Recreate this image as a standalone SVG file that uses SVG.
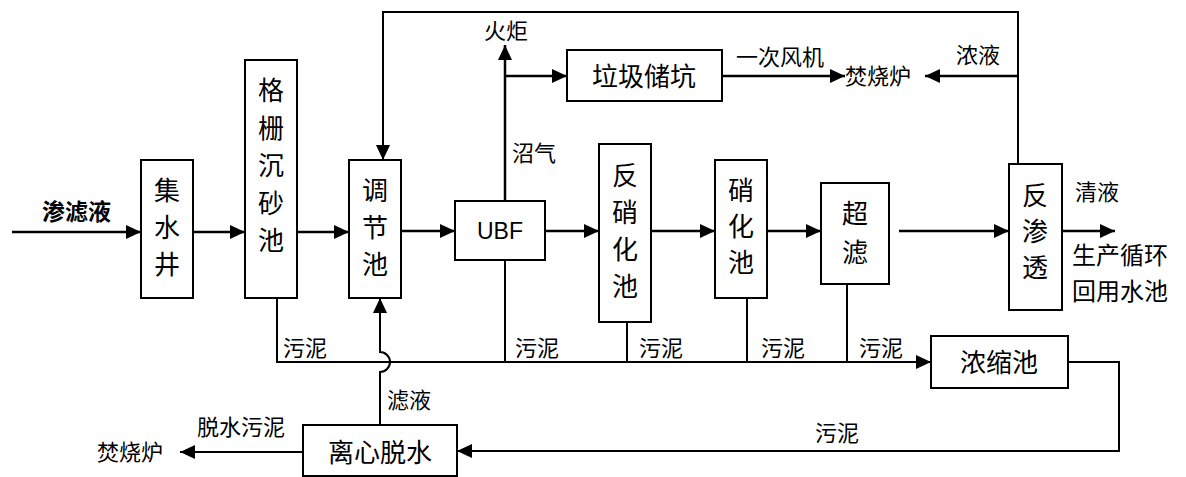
<svg xmlns="http://www.w3.org/2000/svg" width="1186" height="477" viewBox="0 0 1186 477">
<defs>
<marker id="ah" markerUnits="userSpaceOnUse" markerWidth="15" markerHeight="14" refX="15" refY="7" orient="auto">
<path d="M0,0 L15,7 L0,14 z" fill="#000"/>
</marker>
<style>
.box{fill:#fff;stroke:#000;stroke-width:2}
.ln{fill:none;stroke:#000;stroke-width:2.5}
.sl{fill:none;stroke:#000;stroke-width:2}
.t{font-family:"Noto Sans CJK SC",sans-serif;font-size:26px;fill:#000;text-anchor:middle}
.lb{font-family:"Noto Sans CJK SC",sans-serif;font-size:22px;fill:#000}
.c{text-anchor:middle}
</style>
</defs>
<rect width="1186" height="477" fill="#fff"/>
<g id="connectors">
<line class="ln" x1="12" y1="232" x2="141" y2="232" marker-end="url(#ah)"/>
<line class="ln" x1="193" y1="232" x2="245" y2="232" marker-end="url(#ah)"/>
<line class="ln" x1="297" y1="232" x2="349" y2="232" marker-end="url(#ah)"/>
<line class="ln" x1="401" y1="231" x2="455" y2="231" marker-end="url(#ah)"/>
<line class="ln" x1="545" y1="231" x2="599" y2="231" marker-end="url(#ah)"/>
<line class="ln" x1="651" y1="231" x2="715" y2="231" marker-end="url(#ah)"/>
<line class="ln" x1="767" y1="231" x2="821" y2="231" marker-end="url(#ah)"/>
<line class="ln" x1="899" y1="231" x2="1009" y2="231" marker-end="url(#ah)"/>
<line class="ln" x1="1062" y1="231" x2="1115" y2="231" marker-end="url(#ah)"/>
<path class="sl" d="M1018,164 V12 H383 V160" marker-end="url(#ah)"/>
<line class="ln" x1="1018" y1="76" x2="925" y2="76" marker-end="url(#ah)"/>
<line class="ln" x1="505" y1="201" x2="505" y2="45" marker-end="url(#ah)"/>
<line class="ln" x1="505" y1="76" x2="567" y2="76" marker-end="url(#ah)"/>
<line class="ln" x1="722" y1="76" x2="845" y2="76" marker-end="url(#ah)"/>
<path class="sl" d="M277,298 V362 H931" marker-end="url(#ah)"/>
<path class="sl" d="M505,260 V362 M627,322 V362 M747,298 V362 M847,284 V362"/>
<path class="sl" d="M380,425 V372 A10,10 0 0 0 380,352 V298" marker-end="url(#ah)"/>
<path class="sl" d="M1068,362 H1119 V451 H457" marker-end="url(#ah)"/>
<line class="sl" x1="303" y1="452" x2="180" y2="452" marker-end="url(#ah)"/>
</g>
<g id="n-jishuijing">
<rect class="box" x="141" y="160" width="52" height="138"/>
<text class="t" x="167" y="200">集</text><text class="t" x="167" y="237">水</text><text class="t" x="167" y="274">井</text>
</g>
<g id="n-geshan">
<rect class="box" x="245" y="60" width="52" height="238"/>
<text class="t" x="271" y="100">格</text><text class="t" x="271" y="138">栅</text><text class="t" x="271" y="175">沉</text><text class="t" x="271" y="213">砂</text><text class="t" x="271" y="250">池</text>
</g>
<g id="n-tiaojie">
<rect class="box" x="349" y="160" width="52" height="138"/>
<text class="t" x="375" y="200">调</text><text class="t" x="375" y="237">节</text><text class="t" x="375" y="274">池</text>
</g>
<g id="n-ubf">
<rect class="box" x="455" y="201" width="90" height="59"/>
<text x="500" y="239" style="font-family:'Liberation Sans',Arial,sans-serif;font-size:23px;text-anchor:middle">UBF</text>
</g>
<g id="n-fanxiaohua">
<rect class="box" x="599" y="144" width="52" height="178"/>
<text class="t" x="625" y="185">反</text><text class="t" x="625" y="222">硝</text><text class="t" x="625" y="259">化</text><text class="t" x="625" y="296">池</text>
</g>
<g id="n-xiaohua">
<rect class="box" x="715" y="160" width="52" height="138"/>
<text class="t" x="741" y="200">硝</text><text class="t" x="741" y="236">化</text><text class="t" x="741" y="272">池</text>
</g>
<g id="n-chaolv">
<rect class="box" x="821" y="183" width="68" height="101"/>
<text class="t" x="855" y="223">超</text><text class="t" x="855" y="262">滤</text>
</g>
<g id="n-fanshentou">
<rect class="box" x="1009" y="164" width="53" height="146"/>
<text class="t" x="1035" y="205">反</text><text class="t" x="1035" y="241">渗</text><text class="t" x="1035" y="277">透</text>
</g>
<g id="n-lajichukeng">
<rect class="box" x="567" y="50" width="155" height="51"/>
<text class="t" x="644" y="86">垃圾储坑</text>
</g>
<g id="n-nongsuochi">
<rect class="box" x="931" y="336" width="137" height="52"/>
<text class="t" x="999" y="372">浓缩池</text>
</g>
<g id="n-lixintuoshui">
<rect class="box" x="303" y="425" width="154" height="51"/>
<text class="t" x="380" y="462">离心脱水</text>
</g>
<g id="labels">
<text class="lb" x="42" y="220" style="font-weight:bold;font-size:23px">渗滤液</text>
<text class="lb c" x="506" y="39">火炬</text>
<text class="lb c" x="780" y="65">一次风机</text>
<text class="lb" x="845" y="84">焚烧炉</text>
<text class="lb c" x="978" y="63">浓液</text>
<text class="lb c" x="534" y="161">沼气</text>
<text class="lb c" x="1097" y="200">清液</text>
<text class="lb" x="1072" y="264" style="font-size:24px">生产循环</text>
<text class="lb" x="1072" y="300" style="font-size:24px">回用水池</text>
<text class="lb" x="283" y="356">污泥</text>
<text class="lb" x="515" y="356">污泥</text>
<text class="lb" x="639" y="356">污泥</text>
<text class="lb" x="761" y="356">污泥</text>
<text class="lb" x="859" y="356">污泥</text>
<text class="lb" x="815" y="441">污泥</text>
<text class="lb" x="387" y="408">滤液</text>
<text class="lb" x="197" y="435">脱水污泥</text>
<text class="lb" x="97" y="460">焚烧炉</text>
</g>
</svg>
